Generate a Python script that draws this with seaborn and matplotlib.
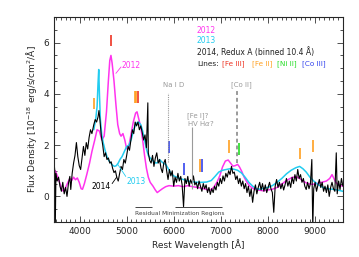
import numpy as np
import pandas as pd
import seaborn as sns
import matplotlib.pyplot as plt
from matplotlib.ticker import MultipleLocator

# 2012 spectrum (magenta)
wl_2012 = [3450, 3480, 3530, 3580, 3620, 3660, 3700, 3750, 3790, 3830, 3870, 3910, 3950, 3990,
           4030, 4060, 4100, 4150, 4210, 4260, 4320, 4370, 4420, 4470, 4520, 4570, 4610, 4640,
           4665, 4690, 4730, 4770, 4810, 4850, 4880, 4920, 4960, 5000, 5040, 5090, 5140, 5190,
           5220, 5260, 5300, 5340, 5380, 5420, 5460, 5500, 5560, 5610, 5650, 5700, 5760, 5830,
           5900, 6000, 6100, 6200, 6300, 6400, 6500, 6600, 6700, 6780, 6850, 6920, 6980, 7040,
           7100, 7160, 7210, 7260, 7310, 7360, 7400, 7450, 7500, 7560, 7620, 7700, 7800, 7900,
           8000, 8100, 8200, 8300, 8400, 8500, 8600, 8680, 8750, 8850, 8950, 9050, 9150, 9250,
           9320, 9370, 9410, 9450, 9500, 9600]
flux_2012 = [0.95, 1.0, 0.78, 0.5, 0.25, 0.2, 0.35, 0.55, 0.7, 0.62, 0.75, 0.65, 0.72, 0.55,
             0.3, 0.28, 0.5, 0.85, 1.3, 1.75, 2.2, 2.6, 2.55, 2.2, 2.35, 3.3, 4.5, 5.3,
             5.5, 5.2, 4.5, 3.6, 2.8, 2.45, 2.35, 2.45, 2.2, 1.85, 1.9, 2.4, 2.9, 3.25,
             3.3, 3.0, 2.7, 2.2, 1.6, 1.1, 0.75, 0.55, 0.4, 0.25, 0.15, 0.22, 0.3, 0.38,
             0.42, 0.4, 0.42, 0.38, 0.42, 0.38, 0.35, 0.32, 0.27, 0.25, 0.35, 0.55, 0.8, 1.15,
             1.38, 1.42, 1.3, 1.18, 1.2, 1.25, 1.15, 0.97, 0.75, 0.55, 0.4, 0.3, 0.25, 0.22,
             0.25, 0.28, 0.35, 0.48, 0.62, 0.72, 0.78, 0.7, 0.6, 0.5, 0.47, 0.5, 0.55, 0.6,
             0.7, 0.85, 0.7, 0.55, 0.45, 0.4]

# 2013 spectrum (cyan)
wl_2013 = [4300, 4340, 4370, 4390, 4405, 4420, 4440, 4470, 4500, 4540, 4580, 4620, 4660, 4700,
           4740, 4780, 4820, 4860, 4900, 4950, 5000, 5050, 5100, 5150, 5200, 5250, 5300, 5340,
           5380, 5420, 5460, 5500, 5540, 5580, 5620, 5660, 5700, 5740, 5780, 5830, 5880, 5930,
           6000, 6100, 6200, 6300, 6400, 6500, 6600, 6700, 6800, 6880, 6960, 7040, 7120, 7200,
           7280, 7360, 7440, 7520, 7600, 7680, 7760, 7840, 7920, 8000, 8100, 8200, 8300, 8400,
           8500, 8600, 8680, 8750, 8820, 8900, 8980, 9080, 9180, 9280, 9380, 9480, 9600]
flux_2013 = [2.6, 3.0, 3.5, 4.4, 4.95, 4.0, 3.0, 2.4, 2.1, 1.8, 1.55, 1.4, 1.3, 1.22,
             1.17, 1.2, 1.3, 1.45, 1.55, 1.75, 1.95, 2.0, 2.25, 2.6, 2.85, 2.9, 2.8, 2.55,
             2.2, 1.85, 1.6, 1.5, 1.42, 1.36, 1.3, 1.32, 1.44, 1.36, 1.3, 1.25, 1.1, 0.93,
             0.8, 0.72, 0.66, 0.6, 0.57, 0.55, 0.55, 0.56, 0.62, 0.78, 0.95, 1.02, 1.05, 1.08,
             1.06, 1.02, 0.92, 0.75, 0.55, 0.4, 0.3, 0.28, 0.32, 0.35, 0.42, 0.55, 0.7, 0.88,
             1.02, 1.12, 1.17, 1.08, 0.95, 0.75, 0.6, 0.45, 0.35, 0.3, 0.28, 0.25, 0.2]

# 2014 spectrum, Redux A binned (black)
wl_2014 = [3450, 3470, 3480, 3495, 3520, 3550, 3580, 3610, 3640, 3670, 3700, 3730, 3760, 3790,
           3810, 3840, 3870, 3900, 3930, 3960, 3990, 4020, 4050, 4080, 4110, 4140, 4170, 4200,
           4230, 4260, 4300, 4330, 4360, 4390, 4410, 4430, 4460, 4490, 4520, 4550, 4580, 4610,
           4640, 4670, 4700, 4730, 4760, 4790, 4820, 4850, 4880, 4910, 4940, 4970, 5000, 5030,
           5060, 5090, 5120, 5150, 5180, 5210, 5240, 5270, 5300, 5330, 5360, 5390, 5420, 5450,
           5460, 5490, 5520, 5550, 5580, 5610, 5640, 5670, 5700, 5730, 5760, 5790, 5820, 5850,
           5880, 5910, 5940, 5970, 6000, 6030, 6060, 6090, 6120, 6150, 6180, 6210, 6240, 6270,
           6300, 6330, 6360, 6390, 6420, 6450, 6480, 6510, 6540, 6570, 6600, 6630, 6660, 6690,
           6720, 6750, 6780, 6810, 6840, 6870, 6900, 6930, 6960, 6990, 7020, 7050, 7080, 7110,
           7140, 7170, 7200, 7230, 7260, 7290, 7320, 7350, 7380, 7410, 7440, 7470, 7500, 7530,
           7560, 7590, 7620, 7650, 7680, 7710, 7740, 7770, 7800, 7830, 7860, 7890, 7920, 7950,
           7980, 8010, 8040, 8070, 8100, 8130, 8160, 8190, 8220, 8250, 8280, 8310, 8340, 8370,
           8400, 8430, 8460, 8490, 8520, 8550, 8580, 8610, 8640, 8670, 8700, 8730, 8760, 8790,
           8820, 8850, 8880, 8910, 8940, 8960, 8980, 9010, 9040, 9070, 9100, 9130, 9160, 9190,
           9220, 9250, 9280, 9310, 9340, 9370, 9400, 9430, 9460, 9480, 9510, 9540, 9570, 9600]
flux_2014 = [1.4, 1.0, -1.2, 0.9, 0.6, 0.75, 0.4, 0.2, 0.55, 0.1, 0.35, 0.0, 0.5, 0.78,
             0.27, 0.9, 1.3, 1.6, 2.1, 1.55, 1.2, 1.05, 1.5, 1.95, 1.6, 2.1, 1.85, 2.3,
             2.6, 2.45, 2.8, 3.0, 2.9, 3.1, 3.35, 3.0, 2.35, 2.0, 1.55, 1.7, 1.44, 1.5,
             1.3, 1.35, 1.1, 0.93, 1.0, 0.74, 0.6, 0.9, 1.17, 1.05, 1.44, 1.3, 1.6, 1.95,
             1.8, 2.2, 2.6, 2.45, 2.9, 2.75, 2.9, 2.6, 2.75, 2.5, 2.2, 2.4, 1.9, 3.65,
             1.7, 1.4, 1.3, 1.6, 1.17, 1.5, 1.7, 1.3, 1.44, 1.1, 0.93, 1.3, 1.44, 1.0,
             0.66, 1.05, 0.8, 1.0, 0.4, 0.75, 0.55, 0.9, 0.6, 0.78, 0.45, -0.4, 0.7, 0.5,
             0.78, 0.4, 0.65, 0.5, 0.8, 0.45, 0.55, 0.3, 0.6, 0.4, 0.2, 0.5, 0.3, 0.45,
             0.15, 0.35, 0.08, 0.3, 0.15, 0.4, 0.25, 0.55, 0.4, 0.7, 0.5, 0.8, 0.6, 0.9,
             0.75, 1.0, 0.85, 1.17, 0.9, 0.95, 0.66, 0.8, 0.5, 0.7, 0.4, 0.6, 0.3, 0.5,
             0.15, 0.4, 0.0, 0.3, -0.23, 0.2, 0.45, 0.1, 0.35, 0.55, 0.25, 0.5, 0.2, 0.45,
             0.15, 0.35, 0.55, 0.3, 0.15, -0.62, 0.4, 0.66, 0.35, 0.55, 0.3, 0.5, 0.25, 0.45,
             0.7, 0.4, 0.6, 0.35, 0.75, 0.5, 0.85, 0.6, 1.05, 0.7, 0.85, 0.55, 0.7, 0.4,
             0.27, 0.55, 0.3, 0.5, 1.44, -1.2, 0.3, 0.55, 0.2, 0.45, 0.66, 0.35, 0.55, 0.2,
             0.4, 0.15, 0.45, 0.0, 0.35, 0.55, 0.3, 0.2, 1.7, 0.1, 0.6, 0.27, 0.7, 0.4]

# line ID tick marks: (wavelength, y bottom, y top, ion)
mark_wl = [4300, 4660, 5170, 5200, 5235, 5895, 6215, 6555, 6600, 7170, 7400, 8680, 8960]
mark_lo = [3.4, 5.85, 3.65, 3.65, 3.65, 1.7, 0.85, 0.95, 0.95, 1.7, 1.63, 1.44, 1.75]
mark_hi = [3.85, 6.3, 4.1, 4.1, 4.1, 2.15, 1.3, 1.44, 1.44, 2.2, 2.1, 1.9, 2.2]
mark_ion = ['Fe II', 'Fe III', 'Fe II', 'Fe II', 'Fe III', 'Co III', 'Co III', 'Fe II', 'Co III',
            'Fe II', 'Ni II', 'Fe II', 'Fe II']

ion_names = ['[Fe III]', '[Fe II]', '[Ni II]', '[Co III]']
ion_keys = ['Fe III', 'Fe II', 'Ni II', 'Co III']
ion_colors = {'Fe III': '#ee3322', 'Fe II': '#ffa020', 'Ni II': '#22dd22', 'Co III': '#3344ee'}

# residual minimization regions
resid_lo = [5170, 6020]
resid_hi = [5530, 7020]

c2012, c2013, c2014 = '#ff33ee', '#22ccf0', 'black'
grey = '#9a9a9a'

sns.set_style('ticks')
plt.rcParams['font.family'] = ['DejaVu Sans']

fig = plt.figure(figsize=(3.59, 2.57), dpi=100)
ax = fig.add_axes([0.150, 0.136, 0.805, 0.798])

df12 = pd.DataFrame({'wl': wl_2012, 'flux': flux_2012})
df13 = pd.DataFrame({'wl': wl_2013, 'flux': flux_2013})
df14 = pd.DataFrame({'wl': wl_2014, 'flux': flux_2014})

sns.lineplot(data=df12, x='wl', y='flux', ax=ax, color=c2012, lw=1.1, sort=False, estimator=None)
sns.lineplot(data=df13, x='wl', y='flux', ax=ax, color=c2013, lw=1.1, sort=False, estimator=None)
sns.lineplot(data=df14, x='wl', y='flux', ax=ax, color=c2014, lw=0.8, sort=False, estimator=None)

for w, lo, hi, ion in zip(mark_wl, mark_lo, mark_hi, mark_ion):
    ax.vlines(w, lo, hi, color=ion_colors[ion], lw=1.2)

# Na I D, [Fe I]? / HV Ha?, [Co II]
ax.vlines(5870, 1.36, 4.05, color=grey, lw=0.8, linestyles=(0, (1, 1)))
ax.text(5770, 4.35, 'Na I D', color=grey, fontsize=5, va='center')
ax.vlines(6400, 0.27, 2.7, color=grey, lw=0.8)
ax.text(6290, 3.15, '[Fe I]?', color=grey, fontsize=5, va='center')
ax.text(6290, 2.84, 'HV H$\\alpha$?', color=grey, fontsize=5, va='center')
ax.vlines(7340, 1.3, 4.1, color=grey, lw=1.4, linestyles=(0, (2, 1.5)))
ax.text(7230, 4.35, '[Co II]', color=grey, fontsize=5, va='center')

# spectrum labels with pointers
ax.plot([4770, 4880], [4.8, 5.05], color=c2012, lw=0.6)
ax.text(4900, 5.12, '2012', color=c2012, fontsize=5.5, va='center')
ax.plot([4810, 4980], [1.25, 0.78], color=c2013, lw=0.6)
ax.text(4990, 0.58, '2013', color=c2013, fontsize=5.5, va='center')
ax.plot([4690, 4790], [0.5, 0.76], color='black', lw=0.6)
ax.text(4250, 0.4, '2014', color='black', fontsize=5.5, va='center')

# residual minimization regions
for lo, hi in zip(resid_lo, resid_hi):
    ax.hlines(-0.43, lo, hi, color='#444444', lw=0.7)
ax.text(5170, -0.66, 'Residual Minimization Regions', color='#444444', fontsize=4.2, va='center')

# legend block
ax.text(0.495, 0.932, '2012', color=c2012, fontsize=5.5, transform=ax.transAxes, va='center')
ax.text(0.495, 0.883, '2013', color=c2013, fontsize=5.5, transform=ax.transAxes, va='center')
ax.text(0.495, 0.829, '2014, Redux A (binned 10.4 Å)', color='#222222', fontsize=5.5,
        transform=ax.transAxes, va='center')
ax.text(0.495, 0.771, 'Lines:', color='#222222', fontsize=5.3, transform=ax.transAxes, va='center')
for xpos, name, key in zip([0.583, 0.684, 0.771, 0.858], ion_names, ion_keys):
    ax.text(xpos, 0.771, name, color=ion_colors[key], fontsize=5.2, transform=ax.transAxes, va='center')

ax.set_xlim(3450, 9600)
ax.set_ylim(-1, 7)
ax.set_xticks([4000, 5000, 6000, 7000, 8000, 9000])
ax.set_yticks([0, 2, 4, 6])
ax.xaxis.set_minor_locator(MultipleLocator(100))
ax.yaxis.set_minor_locator(MultipleLocator(0.5))
ax.tick_params(which='both', direction='in', top=True, right=True, labelsize=6.5, width=0.6, color='#333333')
ax.tick_params(which='major', length=4)
ax.tick_params(which='minor', length=2)
for s in ax.spines.values():
    s.set_linewidth(0.8)
ax.set_xlabel('Rest Wavelength [Å]', fontsize=6.5, labelpad=2)
ax.set_ylabel('Flux Density [10$^{-18}$ erg/s/cm$^2$/Å]', fontsize=6.5, labelpad=3)

fig.savefig('out.png', dpi=100)
